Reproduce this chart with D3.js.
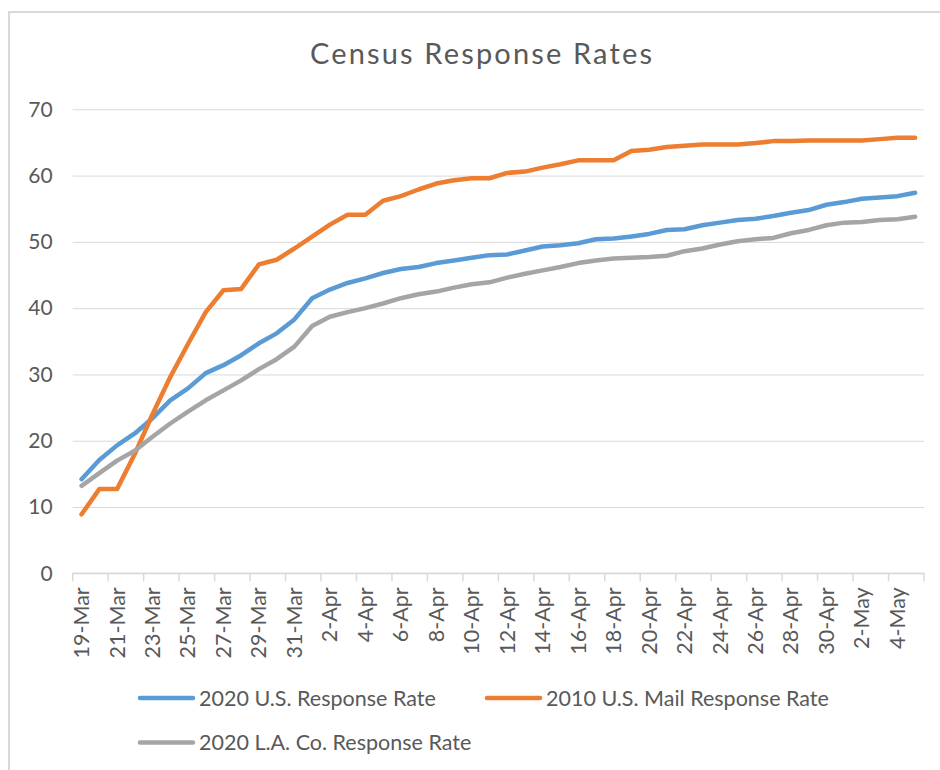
<!DOCTYPE html>
<html>
<head>
<meta charset="utf-8">
<script src="https://cdn.jsdelivr.net/npm/d3@7/dist/d3.min.js"></script>
<style>
  body { margin: 0; background: #fff; }
  svg text { font-family: Lato, "Open Sans", sans-serif; fill: #595959; }
</style>
</head>
<body>
<svg id="chart" width="940" height="770"></svg>
<script>
const days = [
  "19-Mar","20-Mar","21-Mar","22-Mar","23-Mar","24-Mar","25-Mar","26-Mar","27-Mar","28-Mar",
  "29-Mar","30-Mar","31-Mar","1-Apr","2-Apr","3-Apr","4-Apr","5-Apr","6-Apr","7-Apr",
  "8-Apr","9-Apr","10-Apr","11-Apr","12-Apr","13-Apr","14-Apr","15-Apr","16-Apr","17-Apr",
  "18-Apr","19-Apr","20-Apr","21-Apr","22-Apr","23-Apr","24-Apr","25-Apr","26-Apr","27-Apr",
  "28-Apr","29-Apr","30-Apr","1-May","2-May","3-May","4-May","5-May"
];

const us2020 = [
  14.2, 17.1, 19.3, 21.1, 23.4, 26.1, 27.9, 30.2, 31.4, 32.9,
  34.7, 36.2, 38.3, 41.5, 42.8, 43.8, 44.5, 45.3, 45.9, 46.2,
  46.8, 47.2, 47.6, 48.0, 48.1, 48.7, 49.3, 49.5, 49.8, 50.4,
  50.5, 50.8, 51.2, 51.8, 51.9, 52.5, 52.9, 53.3, 53.5, 53.9,
  54.4, 54.8, 55.6, 56.0, 56.5, 56.7, 56.9, 57.4
];

const mail2010 = [
  8.9, 12.7, 12.7, 18.0, 24.0, 29.6, 34.6, 39.4, 42.7, 42.9,
  46.6, 47.3, 49.0, 50.8, 52.6, 54.1, 54.1, 56.2, 56.9, 57.9,
  58.8, 59.3, 59.6, 59.6, 60.4, 60.6, 61.2, 61.7, 62.3, 62.3,
  62.3, 63.7, 63.9, 64.3, 64.5, 64.7, 64.7, 64.7, 64.9, 65.2,
  65.2, 65.3, 65.3, 65.3, 65.3, 65.5, 65.7, 65.7
];

const la2020 = [
  13.2, 15.1, 17.0, 18.5, 20.6, 22.6, 24.4, 26.1, 27.6, 29.1,
  30.8, 32.3, 34.2, 37.3, 38.7, 39.4, 40.0, 40.7, 41.5, 42.1,
  42.5, 43.1, 43.6, 43.9, 44.6, 45.2, 45.7, 46.2, 46.8, 47.2,
  47.5, 47.6, 47.7, 47.9, 48.6, 49.0, 49.6, 50.1, 50.4, 50.6,
  51.3, 51.8, 52.5, 52.9, 53.0, 53.3, 53.4, 53.8
];

const yTicks = [0, 10, 20, 30, 40, 50, 60, 70];

const series = [
  { name: "2020 U.S. Response Rate", values: us2020, color: "#5B9BD5" },
  { name: "2010 U.S. Mail Response Rate", values: mail2010, color: "#ED7D31" },
  { name: "2020 L.A. Co. Response Rate", values: la2020, color: "#A5A5A5" }
];

let svg = d3.select('#chart');

// outer chart frame (runs off the right and bottom edges)
svg.append('rect')
  .attr('x', 9).attr('y', 12)
  .attr('width', 960).attr('height', 800)
  .attr('fill', 'none').attr('stroke', '#d9d9d9').attr('stroke-width', 2);

let x = d3.scaleBand().domain(days).range([72.7, 924]).padding(0),
    y = d3.scaleLinear().domain([0, 70]).range([573.3, 109.3]);

svg.append('text')
  .attr('x', 310).attr('y', 64)
  .attr('textLength', 342)
  .attr('lengthAdjust', 'spacing')
  .style('font-size', '29px')
  .text('Census Response Rates');

// gridlines + y labels
let yAxis = svg.append('g')
  .attr('transform', 'translate(72.7,0)')
  .call(d3.axisLeft(y).tickValues(yTicks).tickSize(-(924 - 72.7)).tickPadding(20));
yAxis.select('.domain').remove();
yAxis.selectAll('.tick line').attr('stroke', '#d9d9d9');
yAxis.selectAll('.tick text').style('font-size', '21px').attr('fill', '#595959');

// x axis: tick marks at category edges every 2 days, labels on category centers
let xg = svg.append('g').attr('transform', 'translate(0,' + y(0) + ')');
xg.append('line')
  .attr('x1', 72.7).attr('x2', 924)
  .attr('stroke', '#d9d9d9').attr('stroke-width', 1.5);

let edgeDays = days.filter((d, i) => i % 2 === 0);
xg.selectAll('.xtick').data(edgeDays.concat(['end'])).enter().append('line')
  .attr('class', 'xtick')
  .attr('x1', d => d === 'end' ? 924 : x(d))
  .attr('x2', d => d === 'end' ? 924 : x(d))
  .attr('y1', 0).attr('y2', 8)
  .attr('stroke', '#d9d9d9').attr('stroke-width', 1.5);

xg.selectAll('.xlabel').data(edgeDays).enter().append('text')
  .attr('class', 'xlabel')
  .attr('text-anchor', 'end')
  .attr('transform', d => 'translate(' + (x(d) + x.bandwidth() / 2 + 7.5) + ',14) rotate(-90)')
  .style('font-size', '21.5px')
  .text(d => d);

// lines
let line = d3.line()
  .x((d, i) => x(days[i]) + x.bandwidth() / 2)
  .y(d => y(d));

svg.selectAll('.series').data(series).enter().append('path')
  .attr('class', 'series')
  .attr('d', d => line(d.values))
  .attr('fill', 'none')
  .attr('stroke', d => d.color)
  .attr('stroke-width', 4.5)
  .attr('stroke-linejoin', 'round')
  .attr('stroke-linecap', 'round');

// legend
let legendPos = [[140, 698], [487, 698], [140, 742.5]];
let legend = svg.selectAll('.legend').data(series).enter().append('g')
  .attr('class', 'legend')
  .attr('transform', (d, i) => 'translate(' + legendPos[i][0] + ',' + legendPos[i][1] + ')');

legend.append('line')
  .attr('x1', 0).attr('x2', 53)
  .attr('stroke', d => d.color)
  .attr('stroke-width', 4.5)
  .attr('stroke-linecap', 'round');

legend.append('text')
  .attr('x', 59).attr('y', 7.5)
  .style('font-size', '21.5px')
  .text(d => d.name);
</script>
</body>
</html>
